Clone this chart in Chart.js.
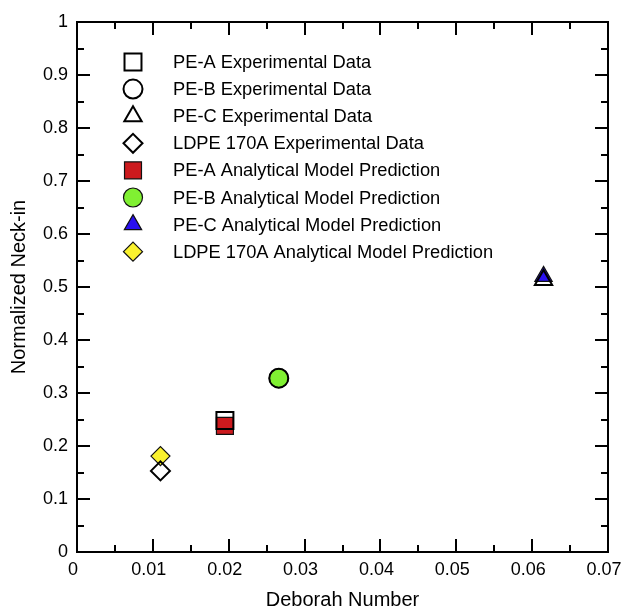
<!DOCTYPE html>
<html>
<head>
<meta charset="utf-8">
<script src="https://cdn.jsdelivr.net/npm/chart.js@4.4.1/dist/chart.umd.min.js"></script>
<style>
  html, body { margin: 0; padding: 0; background: #fff; }
  #wrap { width: 623px; height: 612px; }
</style>
</head>
<body>
<div id="wrap"><canvas id="chart"></canvas></div>
<script>
// Data
const seriesNames = [
    'PE-A Experimental Data',
    'PE-B Experimental Data',
    'PE-C Experimental Data',
    'LDPE 170A Experimental Data',
    'PE-A Analytical Model Prediction',
    'PE-B Analytical Model Prediction',
    'PE-C Analytical Model Prediction',
    'LDPE 170A Analytical Model Prediction'
];
const deborahExp = [0.0195, 0.0266, 0.0615, 0.0110];
const neckInExp = [0.248, 0.328, 0.513, 0.153];
const deborahModel = [0.0195, 0.0266, 0.0615, 0.0110];
const neckInModel = [0.238, 0.328, 0.520, 0.181];

const xTicks = [0, 0.01, 0.02, 0.03, 0.04, 0.05, 0.06, 0.07];
const xMinorTicks = [0.005, 0.015, 0.025, 0.035, 0.045, 0.055, 0.065];
const yTicks = [0, 0.1, 0.2, 0.3, 0.4, 0.5, 0.6, 0.7, 0.8, 0.9, 1];
const yMinorTicks = [0.05, 0.15, 0.25, 0.35, 0.45, 0.55, 0.65, 0.75, 0.85, 0.95];

const shapes = ['rect', 'circle', 'triangle', 'rectRot'];
const radii = [12, 9.5, 10, 9.5];
const modelColors = ['#cc1a1e', '#80f032', '#2a10f0', '#faf22e'];

const FONT = '"Liberation Sans", Arial, sans-serif';

const datasets = [];
// experimental (drawn on top, open markers)
for (let i = 0; i < 4; i++) {
    datasets.push({
        label: seriesNames[i],
        data: [{ x: deborahExp[i], y: neckInExp[i] }],
        pointStyle: shapes[i],
        pointRadius: radii[i],
        pointHoverRadius: radii[i],
        backgroundColor: 'rgba(0,0,0,0)',
        borderColor: '#000',
        pointBorderWidth: 2
    });
}
// model predictions (filled markers)
for (let i = 0; i < 4; i++) {
    datasets.push({
        label: seriesNames[i + 4],
        data: [{ x: deborahModel[i], y: neckInModel[i] }],
        pointStyle: shapes[i],
        pointRadius: radii[i],
        pointHoverRadius: radii[i],
        backgroundColor: modelColors[i],
        borderColor: '#111',
        pointBorderWidth: 1.2
    });
}

// frame + inward ticks
const axisBox = {
    id: 'axisBox',
    afterDraw(chart) {
        const { ctx, chartArea: a, scales: { x, y } } = chart;
        ctx.save();
        ctx.strokeStyle = '#000';
        ctx.lineWidth = 2;
        ctx.strokeRect(a.left, a.top, a.right - a.left, a.bottom - a.top);
        ctx.beginPath();
        const tick = (vals, len) => {
            vals.forEach(v => {
                const px = Math.round(x.getPixelForValue(v));
                ctx.moveTo(px, a.bottom); ctx.lineTo(px, a.bottom - len);
                ctx.moveTo(px, a.top); ctx.lineTo(px, a.top + len);
            });
        };
        const tickY = (vals, len) => {
            vals.forEach(v => {
                const py = Math.round(y.getPixelForValue(v));
                ctx.moveTo(a.left, py); ctx.lineTo(a.left + len, py);
                ctx.moveTo(a.right, py); ctx.lineTo(a.right - len, py);
            });
        };
        tick(xTicks, 13);
        tick(xMinorTicks, 7);
        tickY(yTicks, 13);
        tickY(yMinorTicks, 7);
        ctx.stroke();
        ctx.restore();
    }
};

// legend inside the plot, top-left
const plotLegend = {
    id: 'plotLegend',
    afterDatasetsDraw(chart) {
        const { ctx, chartArea: a } = chart;
        ctx.save();
        ctx.font = '18.3px ' + FONT;
        ctx.textBaseline = 'middle';
        chart.data.datasets.forEach((ds, i) => {
            const cy = a.top + 40 + i * 27.1;
            const cx = a.left + 56;
            ctx.fillStyle = ds.backgroundColor;
            ctx.strokeStyle = ds.borderColor;
            ctx.lineWidth = ds.pointBorderWidth;
            Chart.helpers.drawPoint(ctx, { pointStyle: ds.pointStyle, radius: ds.pointRadius, borderWidth: ds.pointBorderWidth }, cx, cy);
            ctx.fillStyle = '#000';
            ctx.fillText(ds.label, a.left + 96, cy + 1);
        });
        ctx.restore();
    }
};

new Chart(document.getElementById('chart'), {
    type: 'scatter',
    data: { datasets },
    plugins: [axisBox, plotLegend],
    options: {
        responsive: true,
        maintainAspectRatio: false,
        animation: false,
        layout: { padding: { left: 0, right: 15, top: 22, bottom: 0 } },
        plugins: {
            legend: { display: false },
            tooltip: { enabled: false }
        },
        scales: {
            x: {
                type: 'linear',
                min: 0,
                max: 0.07,
                afterBuildTicks: s => { s.ticks = xTicks.map(v => ({ value: v })); },
                afterFit: s => { s.height = 60; s.paddingLeft = 0; s.paddingRight = 0; },
                grid: { display: false, drawTicks: false },
                border: { display: false },
                ticks: {
                    color: '#000',
                    font: { family: FONT, size: 18 },
                    padding: 7,
                    labelOffset: -4,
                    maxRotation: 0,
                    callback: v => String(v)
                },
                title: {
                    display: true,
                    text: 'Deborah Number',
                    color: '#000',
                    font: { family: FONT, size: 20 },
                    padding: { top: 0, bottom: 0 }
                }
            },
            y: {
                type: 'linear',
                min: 0,
                max: 1,
                afterBuildTicks: s => { s.ticks = yTicks.map(v => ({ value: v })); },
                afterFit: s => { s.width = 77; s.paddingTop = 0; s.paddingBottom = 0; },
                grid: { display: false, drawTicks: false },
                border: { display: false },
                ticks: {
                    color: '#000',
                    font: { family: FONT, size: 18 },
                    padding: 9,
                    callback: v => String(v)
                },
                title: {
                    display: true,
                    text: 'Normalized Neck-in',
                    color: '#000',
                    font: { family: FONT, size: 20 },
                    padding: { top: 7, bottom: 0 }
                }
            }
        }
    }
});
</script>
</body>
</html>
